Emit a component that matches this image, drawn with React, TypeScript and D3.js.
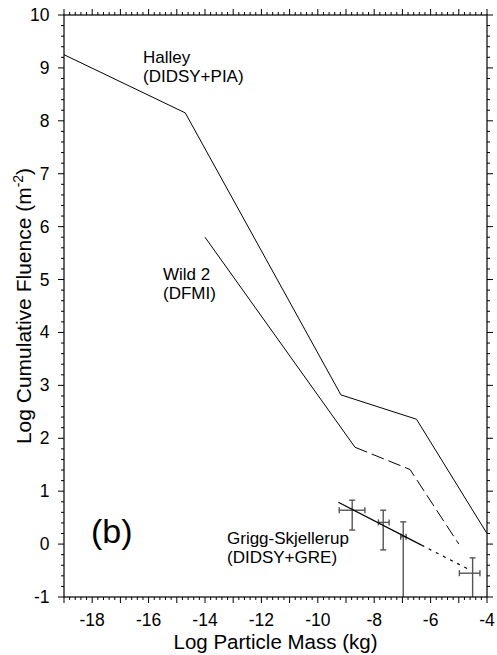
import React from "react";
import * as d3 from "d3";

const halleyX = [-19, -14.7, -9.18, -6.5, -4];
const halleyY = [9.25, 8.15, 2.82, 2.36, 0.2];
const wildSolidX = [-14, -8.68];
const wildSolidY = [5.8, 1.83];
const wildDashX = [-8.68, -6.73, -5.0];
const wildDashY = [1.83, 1.41, 0.0];
const gsSolidX = [-9.27, -6.32];
const gsSolidY = [0.79, -0.02];
const gsDotX = [-6.32, -4.6];
const gsDotY = [-0.02, -0.49];
const errX = [-8.78, -7.68, -6.97, -4.51];
const errY = [0.64, 0.41, 0.14, -0.55];
const errXLo = [-9.24, -7.85, -7.06, -4.98];
const errXHi = [-8.33, -7.47, -6.87, -4.25];
const errYLo = [0.265, -0.11, -1.2, -1.2];
const errYHi = [0.83, 0.64, 0.42, -0.26];
const xTickLabels = [-18, -16, -14, -12, -10, -8, -6, -4];
const yTickLabels = [-1, 0, 1, 2, 3, 4, 5, 6, 7, 8, 9, 10];
const labelLines = [
  ["Halley", "(DIDSY+PIA)"],
  ["Wild 2", "(DFMI)"],
  ["Grigg-Skjellerup", "(DIDSY+GRE)"],
];

const W = 497, H = 655;
const L = 64, R = 487, T = 15, B = 597;
const font = "'Liberation Sans', Arial, sans-serif";
const labelPos = [
  [143, 62.5],
  [163, 279.5],
  [227, 544],
];

export default function App() {
  const x = d3.scaleLinear().domain([-19, -4]).range([L, R]);
  const y = d3.scaleLinear().domain([-1, 10]).range([B, T]);
  const line = d3.line<[number, number]>().x((d) => x(d[0])).y((d) => y(d[1]));
  const pts = (xs: number[], ys: number[]) => xs.map((v, i) => [v, ys[i]] as [number, number]);

  const xMinor = d3.range(-19, -4 + 1e-9, 0.2).map((v) => Math.round(v * 10) / 10);
  const yMinor = d3.range(-1, 10 + 1e-9, 0.2).map((v) => Math.round(v * 10) / 10);
  const isInt = (v: number) => Math.abs(v - Math.round(v)) < 1e-6;

  return (
    <svg width={W} height={H} style={{ position: "absolute", left: 0, top: 0, background: "#fff" }}>
      <defs>
        <clipPath id="plot">
          <rect x={L} y={T} width={R - L} height={B - T} />
        </clipPath>
      </defs>
      <g clipPath="url(#plot)" fill="none">
        <path d={line(pts(halleyX, halleyY)) || ""} stroke="#000" strokeWidth={1} />
        <path d={line(pts(wildSolidX, wildSolidY)) || ""} stroke="#000" strokeWidth={1} />
        <path d={line(pts(wildDashX, wildDashY)) || ""} stroke="#000" strokeWidth={1} strokeDasharray="13,5" />
        {errX.map((v, i) => (
          <g key={i} stroke="#555" strokeWidth={1.4}>
            <line x1={x(errXLo[i])} x2={x(errXHi[i])} y1={y(errY[i])} y2={y(errY[i])} />
            <line x1={x(v)} x2={x(v)} y1={y(errYLo[i])} y2={y(errYHi[i])} />
            <line x1={x(errXLo[i])} x2={x(errXLo[i])} y1={y(errY[i]) - 3} y2={y(errY[i]) + 3} />
            <line x1={x(errXHi[i])} x2={x(errXHi[i])} y1={y(errY[i]) - 3} y2={y(errY[i]) + 3} />
            <line x1={x(v) - 3} x2={x(v) + 3} y1={y(errYHi[i])} y2={y(errYHi[i])} />
            {errYLo[i] > -1 && <line x1={x(v) - 3} x2={x(v) + 3} y1={y(errYLo[i])} y2={y(errYLo[i])} />}
          </g>
        ))}
        <path d={line(pts(gsSolidX, gsSolidY)) || ""} stroke="#000" strokeWidth={1.2} />
        <path d={line(pts(gsDotX, gsDotY)) || ""} stroke="#000" strokeWidth={1.2} strokeDasharray="3,5" />
      </g>
      <rect x={L} y={T} width={R - L} height={B - T} fill="none" stroke="#000" strokeWidth={1.2} />
      {xMinor.map((v, i) => {
        const len = isInt(v) ? 6 : 3;
        return (
          <g key={"xt" + i} stroke="#000" strokeWidth={1}>
            <line x1={x(v)} x2={x(v)} y1={B} y2={B + len} />
            <line x1={x(v)} x2={x(v)} y1={T} y2={T - len} />
          </g>
        );
      })}
      {yMinor.map((v, i) => {
        const len = isInt(v) ? 6 : 3;
        return (
          <g key={"yt" + i} stroke="#000" strokeWidth={1}>
            <line x1={L} x2={L - len} y1={y(v)} y2={y(v)} />
            <line x1={R} x2={R + len} y1={y(v)} y2={y(v)} />
          </g>
        );
      })}
      <g fontFamily={font} fontSize={17.5} fill="#000">
        {xTickLabels.map((v) => (
          <text key={"xl" + v} x={x(v)} y={626} textAnchor="middle">{v}</text>
        ))}
        {yTickLabels.map((v) => (
          <text key={"yl" + v} x={L - 14.5} y={y(v) + 6} textAnchor="end">{v}</text>
        ))}
      </g>
      <text x={(L + R) / 2} y={649} textAnchor="middle" fontFamily={font} fontSize={20.5}>
        Log Particle Mass (kg)
      </text>
      <text
        transform={`translate(31,${(T + B) / 2}) rotate(-90)`}
        textAnchor="middle"
        fontFamily={font}
        fontSize={21}
      >
        Log Cumulative Fluence (m<tspan dy={-8} fontSize={14}>-2</tspan><tspan dy={8}>)</tspan>
      </text>
      <g fontFamily={font} fontSize={17} fill="#000">
        {labelLines.map((lines, i) => (
          <g key={"lab" + i}>
            <text x={labelPos[i][0]} y={labelPos[i][1]}>{lines[0]}</text>
            <text x={labelPos[i][0]} y={labelPos[i][1] + 19.2}>{lines[1]}</text>
          </g>
        ))}
      </g>
      <text x={91} y={543} fontFamily={font} fontSize={34}>(b)</text>
    </svg>
  );
}
